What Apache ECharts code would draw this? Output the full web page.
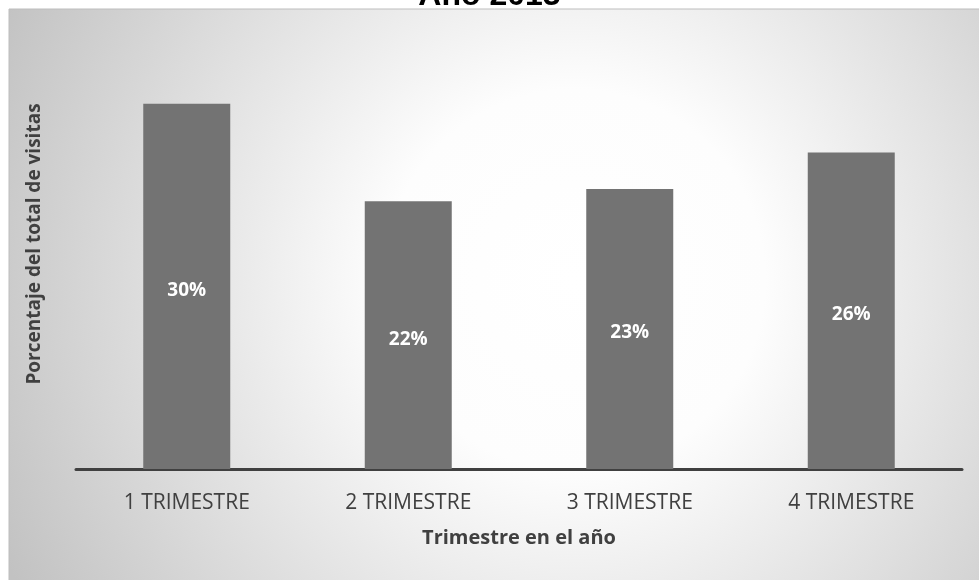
<!DOCTYPE html>
<html>
<head>
<meta charset="utf-8">
<script src="https://cdn.jsdelivr.net/npm/echarts@6/dist/echarts.min.js"></script>
<style>
  html, body { margin: 0; padding: 0; background: #ffffff; }
  #chart { width: 979px; height: 580px; }
</style>
</head>
<body>
<div id="chart"></div>
<script>
// Quarterly share of total visits
const titleText = 'Año 2013';
const categories = ['1 TRIMESTRE', '2 TRIMESTRE', '3 TRIMESTRE', '4 TRIMESTRE'];
const visitShare = [30, 22, 23, 26];
const xAxisTitle = 'Trimestre en el año';
const yAxisTitle = 'Porcentaje del total de visitas';

const textFont = '"Open Sans", "Noto Sans", sans-serif';

const chart = echarts.init(document.getElementById('chart'), null, { renderer: 'canvas' });

chart.setOption({
  animation: false,
  backgroundColor: '#ffffff',
  graphic: [
    {
      type: 'rect',
      z: -10,
      shape: { x: 9, y: 9, width: 975, height: 576 },
      style: {
        fill: {
          type: 'radial',
          x: 0.58, y: 0.47, r: 1.1,
          colorStops: [
            { offset: 0, color: '#ffffff' },
            { offset: 0.3, color: '#fdfdfd' },
            { offset: 1, color: '#c2c2c2' }
          ]
        },
        stroke: '#bdbdbd',
        lineWidth: 1
      }
    }
  ],
  title: {
    text: titleText,
    left: 'center',
    top: -25,
    textStyle: {
      fontFamily: '"Liberation Sans", Arial, sans-serif',
      fontSize: 32,
      fontWeight: 'bold',
      color: '#000000'
    }
  },
  grid: { left: 76, right: 17, top: 43, bottom: 111, containLabel: false },
  xAxis: {
    type: 'category',
    data: categories,
    name: xAxisTitle,
    nameLocation: 'middle',
    nameGap: 59,
    nameTextStyle: { fontFamily: textFont, fontSize: 20, fontWeight: 'bold', color: '#404040' },
    axisLine: { show: true, lineStyle: { color: '#404040', width: 3 } },
    axisTick: { show: false },
    axisLabel: { fontFamily: textFont, fontSize: 21, color: '#404040', margin: 24 }
  },
  yAxis: {
    type: 'value',
    min: 0,
    max: 35,
    name: yAxisTitle,
    nameLocation: 'middle',
    nameGap: 32,
    nameRotate: 90,
    nameTextStyle: {
      fontFamily: textFont, fontSize: 19, fontWeight: 'bold', color: '#404040',
      padding: [0, 0, 0, 24]
    },
    axisLine: { show: false },
    axisTick: { show: false },
    axisLabel: { show: false },
    splitLine: { show: false }
  },
  series: [
    {
      type: 'bar',
      data: visitShare,
      barWidth: 87,
      itemStyle: { color: '#737373' },
      label: {
        show: true,
        position: 'inside',
        formatter: p => p.value + '%',
        fontFamily: textFont,
        fontSize: 19,
        fontWeight: 'bold',
        color: '#ffffff',
        offset: [0, 4]
      }
    }
  ]
});
</script>
</body>
</html>
